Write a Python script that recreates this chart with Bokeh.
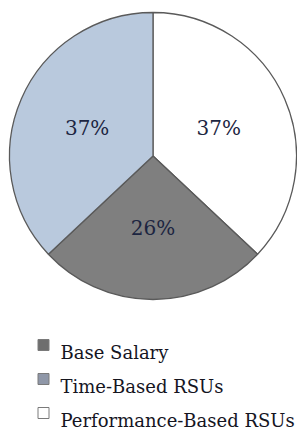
import math
from bokeh.plotting import figure
from bokeh.models import Range1d, ColumnDataSource
from bokeh.core.properties import value
from bokeh.embed import file_html
from bokeh.resources import INLINE

# ---- data ----
categories = ["Base Salary", "Time-Based RSUs", "Performance-Based RSUs"]
shares = [26, 37, 37]
slice_colors = ["#7f7f7f", "#b9c9dd", "#ffffff"]
marker_colors = ["#6e6e6e", "#8f97a8", "#ffffff"]
pie_order = [2, 0, 1]  # clockwise from 12 o'clock

FONT = "DejaVu Serif"

W, H = 297, 430
p = figure(width=W, height=H, x_range=Range1d(0, W), y_range=Range1d(0, H),
           output_backend="svg", toolbar_location=None, min_border=0,
           x_axis_location=None, y_axis_location=None)
p.grid.visible = False
p.outline_line_color = None
p.background_fill_color = "white"

cx, cy, r = 152.5, 274.5, 143.5
total = float(sum(shares))

starts, ends, fills, lx, ly, ltxt = [], [], [], [], [], []
cum = 0.0
for i in pie_order:
    v = shares[i]
    a0 = math.radians(90 - cum / total * 360)
    a1 = math.radians(90 - (cum + v) / total * 360)
    am = math.radians(90 - (cum + v / 2) / total * 360)
    starts.append(a0)
    ends.append(a1)
    fills.append(slice_colors[i])
    lx.append(cx + 0.5 * r * math.cos(am))
    ly.append(cy + 0.5 * r * math.sin(am))
    ltxt.append(f"{v}%")
    cum += v

src = ColumnDataSource(dict(start=starts, end=ends, fill=fills))
p.wedge(x=cx, y=cy, radius=r, start_angle="start", end_angle="end",
        direction="clock", fill_color="fill", line_color="#5a5a5a",
        line_width=1.3, source=src)

p.text(x=lx, y=ly, text=ltxt, text_font=value(FONT),
       text_font_size="20px", text_color="#1c2541", text_align="center",
       text_baseline="middle")

# ---- legend ----
row_base = [78, 44, 10]
mx = [43] * 3
my = [b + 7.5 for b in row_base]
p.scatter(x=mx, y=my, marker="square", size=11, fill_color=marker_colors,
          line_color="#7a7a7a", line_width=1)
p.text(x=[60] * 3, y=row_base, text=categories,
       text_font=value(FONT), text_font_size="18px",
       text_color="#15151f", text_align="left", text_baseline="alphabetic")

open("out.html", "w").write(file_html(p, INLINE))
